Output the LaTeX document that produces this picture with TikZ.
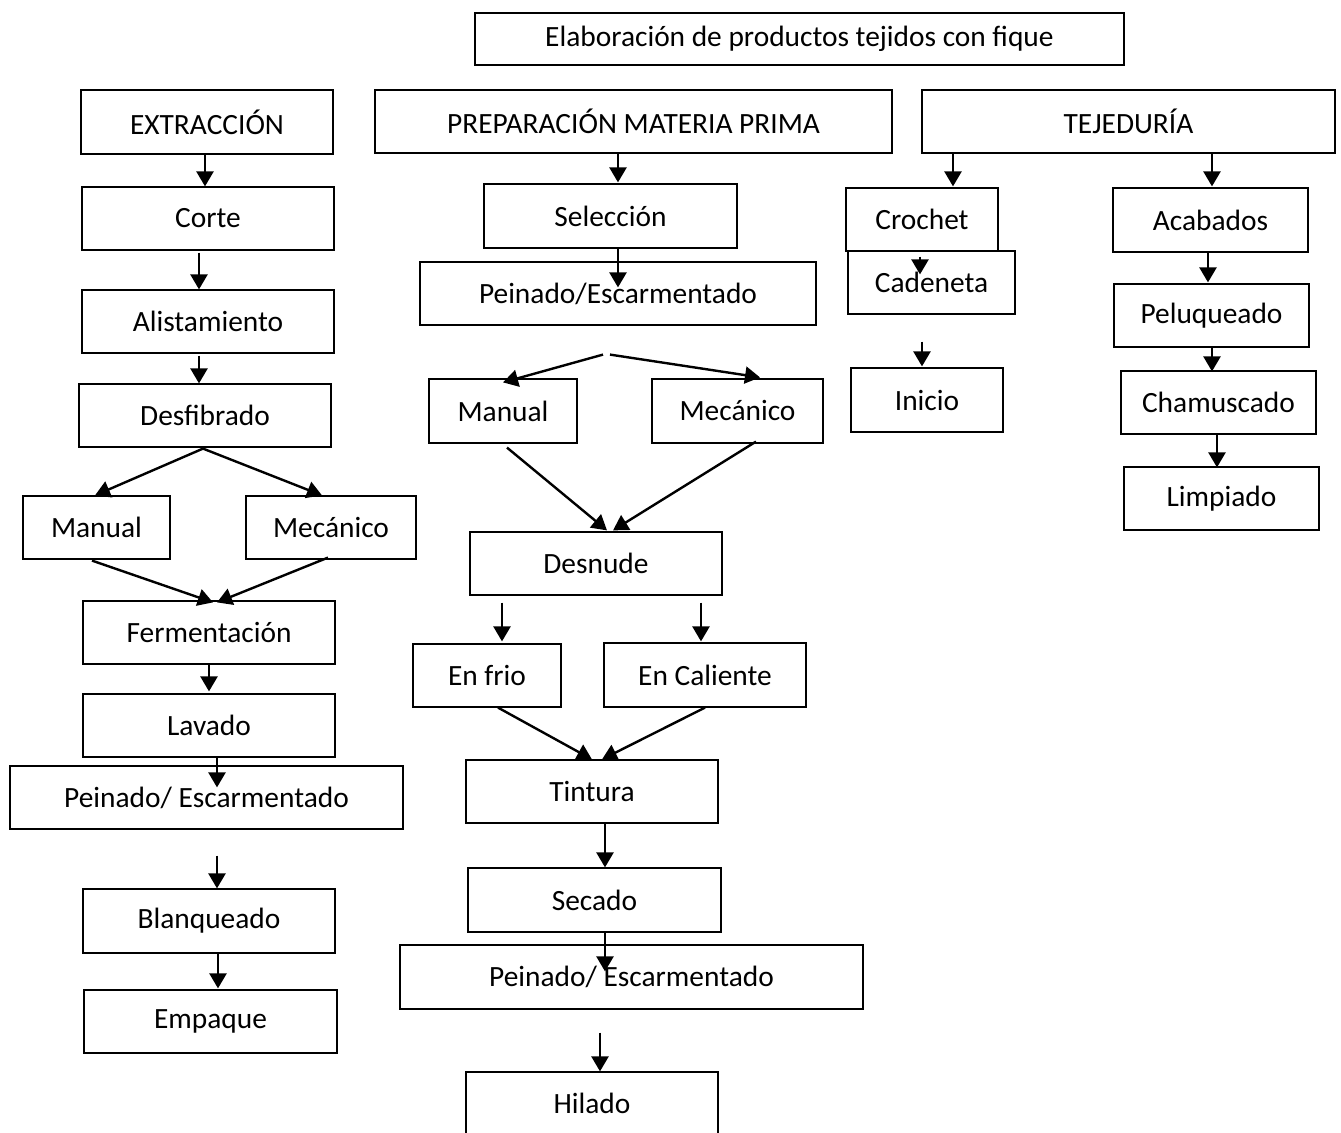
\documentclass[tikz,border=0pt]{standalone}
\usepackage{fontspec}
\setmainfont{Carlito}
\usepackage{tikz}
\usetikzlibrary{arrows.meta,calc}

\begin{document}
\begin{tikzpicture}[x=0.5pt, y=-0.5pt, > = {Triangle[length=7.5pt,width=8.5pt]},
        box/.style={draw, line width=0.6pt, minimum height=31.5pt, inner sep=0pt,
            font=\fontsize{14.7}{16}\selectfont},
        arr/.style={->, line width=1.2pt}]
            \useasboundingbox (0,0) rectangle (1341,1133);
            % titulo
            \node[box, minimum width=324.5pt, minimum height=26pt] (titulo) at (799.5,39) {Elaboración de productos tejidos con fique};
            % extraccion
            \node[box, minimum width=126pt, minimum height=32pt] (extr) at (207,122) {EXTRACCIÓN};
            \node[box, minimum width=126pt] (corte) at (208,218.5) {Corte};
            \node[box, minimum width=126pt] (alist) at (208,321.5) {Alistamiento};
            \node[box, minimum width=126pt] (desf) at (205,415.5) {Desfibrado};
            \node[box, minimum width=73.5pt] (manA) at (96.5,527.5) {Manual};
            \node[box, minimum width=85pt] (mecA) at (331,527.5) {Mecánico};
            \node[box, minimum width=126pt] (ferm) at (209,632.5) {Fermentación};
            \node[box, minimum width=126pt] (lav) at (209,725.5) {Lavado};
            \node[box, minimum width=196.5pt] (peinA) at (206.5,797.5) {Peinado/ Escarmentado};
            \node[box, minimum width=126pt, minimum height=32pt] (blanq) at (209,921) {Blanqueado};
            \node[box, minimum width=126.5pt] (emp) at (210.5,1021.5) {Empaque};
            % preparacion materia prima
            \node[box, minimum width=258.5pt] (prep) at (633.5,121.5) {PREPARACIÓN MATERIA PRIMA};
            \node[box, minimum width=126.5pt, minimum height=32pt] (sel) at (610.5,216) {Selección};
            \node[box, minimum width=198pt] (peinB) at (618,293.5) {Peinado/Escarmentado};
            \node[box, minimum width=74pt, minimum height=32pt] (manB) at (503,411) {Manual};
            \node[box, minimum width=85.5pt, minimum height=32pt] (mecB) at (737.5,411) {Mecánico};
            \node[box, minimum width=126pt] (desn) at (596,563.5) {Desnude};
            \node[box, minimum width=74pt] (frio) at (487,675.5) {En frio};
            \node[box, minimum width=101pt, minimum height=32pt] (cal) at (705,675) {En Caliente};
            \node[box, minimum width=126pt] (tint) at (592,791.5) {Tintura};
            \node[box, minimum width=126.5pt, minimum height=32pt] (sec) at (594.5,900) {Secado};
            \node[box, minimum width=231.5pt, minimum height=32pt] (peinC) at (631.5,977) {Peinado/ Escarmentado};
            \node[box, minimum width=126pt] (hil) at (592,1103.5) {Hilado};
            % tejeduria
            \node[box, minimum width=206.5pt] (teje) at (1128.5,121.5) {TEJEDURÍA};
            \node[box, minimum width=76pt] (croch) at (922,219.5) {Crochet};
            \node[box, minimum width=83.5pt] (caden) at (931.5,282.5) {Cadeneta};
            \node[box, minimum width=76pt, minimum height=32pt] (ini) at (927,400) {Inicio};
            \node[box, minimum width=97.5pt, minimum height=32pt] (acab) at (1210.5,220) {Acabados};
            \node[box, minimum width=97.5pt] (pelu) at (1211.5,315.5) {Peluqueado};
            \node[box, minimum width=97.5pt] (cham) at (1218.5,402.5) {Chamuscado};
            \node[box, minimum width=97.5pt] (limp) at (1221.5,498.5) {Limpiado};

            % flechas extraccion
            \draw[arr] ($(extr.south)+(-2,0)$) -- ($(corte.north)+(-3,0)$);
            \draw[arr] ($(corte.south)+(-9,2)$) -- ($(alist.north)+(-9,0)$);
            \draw[arr] ($(alist.south)+(-9,2)$) -- ($(desf.north)+(-6,0)$);
            \draw[arr] ($(desf.south)+(-2,1)$) -- ($(manA.north)+(-1.5,0)$);
            \draw[arr] ($(desf.south)+(-2,1)$) -- ($(mecA.north)+(-9,0)$);
            \draw[arr] ($(manA.south)+(-4.5,1)$) -- ($(ferm.north)+(4,2)$);
            \draw[arr] ($(mecA.south)+(-3,-2)$) -- ($(ferm.north)+(8,2)$);
            \draw[arr] (ferm.south) -- ($(lav.north)+(0,-2)$);
            \draw[arr] ($(lav.south)+(8,0)$) -- ($(peinA.north)+(10.5,22)$);
            \draw[arr] ($(peinA.south)+(10.5,26)$) -- ($(blanq.north)+(8,0)$);
            \draw[arr] ($(blanq.south)+(9,0)$) -- ($(emp.north)+(7.5,-1)$);
            % flechas preparacion
            \draw[arr] ($(prep.south)+(-15.5,0)$) -- ($(sel.north)+(7.5,-1)$);
            \draw[arr] ($(sel.south)+(7.5,0)$) -- ($(peinB.north)+(0,26)$);
            \draw[arr] ($(peinB.south)+(-15,29)$) -- ($(manB.north)+(0,4)$);
            \draw[arr] ($(peinB.south)+(-8,29)$) -- ($(mecB.north)+(22.5,-1)$);
            \draw[arr] ($(manB.south)+(4,4)$) -- ($(desn.north)+(11,-1)$);
            \draw[arr] ($(mecB.south)+(18.5,-2)$) -- ($(desn.north)+(17,-1)$);
            \draw[arr] ($(desn.south)+(-94,7)$) -- ($(frio.north)+(15,-2)$);
            \draw[arr] ($(desn.south)+(105,7)$) -- ($(cal.north)+(-4,-1)$);
            \draw[arr] ($(frio.south)+(11,0)$) -- ($(tint.north)+(0,0)$);
            \draw[arr] ($(cal.south)+(0,0)$) -- ($(tint.north)+(10,0)$);
            \draw[arr] ($(tint.south)+(13,0)$) -- ($(sec.north)+(10.5,0)$);
            \draw[arr] ($(sec.south)+(10.5,0)$) -- ($(peinC.north)+(-26.5,27)$);
            \draw[arr] ($(peinC.south)+(-31.5,23)$) -- ($(hil.north)+(8,0)$);
            % flechas tejeduria
            \draw[arr] ($(teje.south)+(-175.5,0)$) -- ($(croch.north)+(31,-1)$);
            \draw[arr] ($(teje.south)+(83.5,0)$) -- ($(acab.north)+(1.5,-1)$);
            \draw[arr] ($(croch.south)+(-2,5)$) -- ($(caden.north)+(-11.5,24)$);
            \draw[arr] ($(caden.south)+(-9.5,27)$) -- ($(ini.north)+(-5,-1)$);
            \draw[arr] ($(acab.south)+(-2.5,0)$) -- ($(pelu.north)+(-3.5,-1)$);
            \draw[arr] ($(pelu.south)+(0.5,0)$) -- ($(cham.north)+(-6.5,1)$);
            \draw[arr] ($(cham.south)+(-1.5,0)$) -- ($(limp.north)+(-4.5,1)$);
        \end{tikzpicture}
\end{document}
